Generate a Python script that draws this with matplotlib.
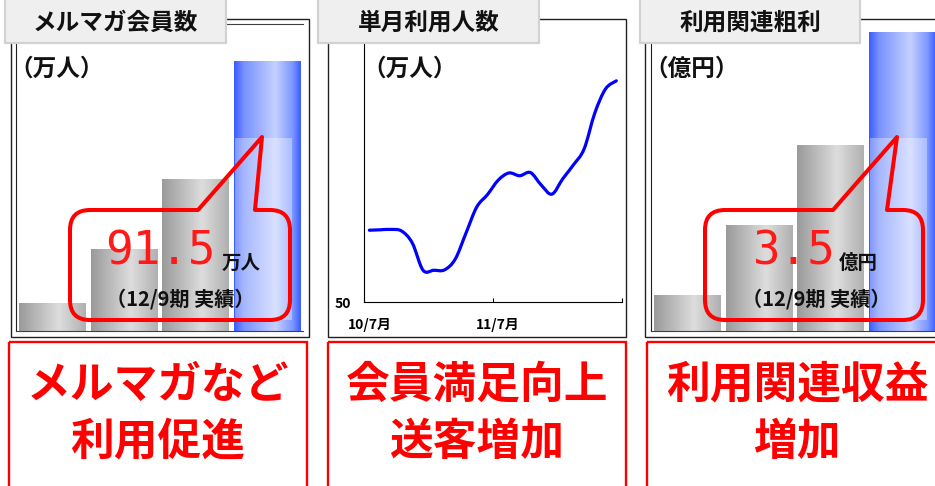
import numpy as np
import matplotlib
matplotlib.use('Agg')
import matplotlib.pyplot as plt
from matplotlib.colors import LinearSegmentedColormap
from matplotlib.patches import Rectangle, PathPatch
from matplotlib.path import Path

plt.rcParams['font.family'] = ['Noto Sans CJK JP', 'DejaVu Sans']

# 決算期ごとの実績
periods = ['09/9期', '10/9期', '11/9期', '12/9期']
members = [9.5, 27.6, 51.4, 91.5]     # メルマガ会員数（万人）
profit = [0.42, 1.24, 2.17, 3.5]      # 利用関連粗利（億円）

# 単月利用人数（万人） 10/7月〜12/6月
month_labels = ['10/7月', '11/7月']
users = [68.0, 68.1, 68.2, 67.8, 64.8, 58.0, 58.0, 58.1, 60.8, 67.3, 73.8, 76.9,
         80.5, 82.3, 81.6, 82.4, 79.3, 77.0, 80.8, 84.3, 88.3, 97.3, 103.3, 105.3]

W, H = 935, 486
fig = plt.figure(figsize=(W / 100, H / 100), dpi=100)


def px_axes(x0, y0, x1, y1, **kw):
    # ピクセル座標(左上原点)で軸を置く
    return fig.add_axes([x0 / W, 1 - y1 / H, (x1 - x0) / W, (y1 - y0) / H], **kw)


gray_cmap = LinearSegmentedColormap.from_list(
    'gray_bar', [(0, '#9a9a9a'), (0.6, '#dddddd'), (1, '#b0b0b0')])
blue_cmap = LinearSegmentedColormap.from_list(
    'blue_bar', [(0, '#3a5bff'), (0.15, '#7892ff'), (0.62, '#c5d0ff'),
                 (0.88, '#7b96ff'), (1, '#3a5bff')])
grad = np.linspace(0, 1, 256).reshape(1, -1)


def bar_panel(ax, values, ymax):
    bars = ax.bar(range(len(values)), values, width=0.92, color='none', edgecolor='none')
    for i, b in enumerate(bars):
        cmap = blue_cmap if i == len(values) - 1 else gray_cmap
        ax.imshow(grad, cmap=cmap, aspect='auto', interpolation='bilinear',
                  extent=[b.get_x(), b.get_x() + b.get_width(), 0, b.get_height()], zorder=2)
    ax.set_xlim(-0.5, len(values) - 0.5)
    ax.set_ylim(0, ymax)
    ax.set_xticks([])
    ax.set_yticks([])
    ax.spines['right'].set_visible(False)
    ax.spines['left'].set_color('#202020')
    ax.spines['bottom'].set_color('#404040')
    ax.spines['top'].set_color('#404040')


# メルマガ会員数
ax1 = px_axes(16, 24, 303, 331)
bar_panel(ax1, members, 104.4)

# 利用関連粗利
ax3 = px_axes(651, 24, 938, 331)
bar_panel(ax3, profit, 3.594)
ax3.spines['top'].set_visible(False)

# 単月利用人数（なめらかな折れ線）
ax2 = px_axes(364, 42, 621.7, 302.3)
x = np.arange(len(users)) + 0.5
pts = np.column_stack([x, users])
ext = np.vstack([pts[0], pts, pts[-1]])
verts = [pts[0]]
codes = [Path.MOVETO]
for i in range(len(pts) - 1):
    p0, p1, p2, p3 = ext[i], ext[i + 1], ext[i + 2], ext[i + 3]
    verts += [p1 + (p2 - p0) / 6, p2 - (p3 - p1) / 6, p2]
    codes += [Path.CURVE4] * 3
ax2.add_patch(PathPatch(Path(verts, codes), fc='none', ec='#0000ff', lw=2.3,
                        capstyle='round', joinstyle='round'))
ax2.set_xlim(0, 24)
ax2.set_ylim(50, 115)
ax2.spines['top'].set_visible(False)
ax2.spines['right'].set_visible(False)
ax2.set_xticks([0, 12, 24], labels=['', '', ''])
ax2.set_xticks([0.5, 12.5], labels=month_labels, minor=True)
ax2.tick_params(axis='x', which='major', direction='in', length=3, width=0.8)
ax2.tick_params(axis='x', which='minor', length=0, pad=11, labelsize=10)
ax2.set_yticks([50], labels=['50'])
ax2.tick_params(axis='y', length=0, pad=9, labelsize=10)
for lbl in ax2.get_xticklabels(minor=True) + ax2.get_yticklabels():
    lbl.set_fontweight('bold')

# 枠・見出し・吹き出しを重ねる
ov = px_axes(0, 0, W, H, zorder=10)
ov.set_xlim(0, W)
ov.set_ylim(H, 0)
ov.axis('off')

for x0, x1 in [(11, 309), (328, 626), (645, 960)]:
    ov.add_patch(Rectangle((x0, 19), x1 - x0, 318, fc='none', ec='#202020', lw=1))

for x0, x1 in [(9, 307), (328, 626), (647, 960)]:
    ov.add_patch(Rectangle((x0, 342), x1 - x0, 200, fc='none', ec='#ff0000', lw=1.7))

tabs = [(5, 226, 'メルマガ会員数'), (318, 539, '単月利用人数'), (640, 860, '利用関連粗利')]
for x0, x1, title in tabs:
    ov.add_patch(Rectangle((x0, -5), x1 - x0, 48, fc='#efefef', ec='#d2d2d2', lw=1.6))
    ov.text((x0 + x1) / 2, 23, title, ha='center', va='center', fontsize=17,
            fontweight='bold', color='#111111')

for cx, unit in [(57, '（万人）'), (410, '（万人）'), (692, '（億円）')]:
    ov.text(cx, 69, unit, ha='center', va='center', fontsize=17, fontweight='bold', color='#111111')


def callout(x0, y0, x1, y1, bx0, bx1, tip, r=20):
    tx, ty = tip
    verts = [(x0 + r, y0), (bx0, y0), (tx, ty), (bx1, y0), (x1 - r, y0),
             (x1, y0), (x1, y0 + r), (x1, y1 - r),
             (x1, y1), (x1 - r, y1), (x0 + r, y1),
             (x0, y1), (x0, y1 - r), (x0, y0 + r),
             (x0, y0), (x0 + r, y0), (x0 + r, y0)]
    codes = [Path.MOVETO, Path.LINETO, Path.LINETO, Path.LINETO, Path.LINETO,
             Path.CURVE3, Path.CURVE3, Path.LINETO,
             Path.CURVE3, Path.CURVE3, Path.LINETO,
             Path.CURVE3, Path.CURVE3, Path.LINETO,
             Path.CURVE3, Path.CURVE3, Path.CLOSEPOLY]
    ov.add_patch(PathPatch(Path(verts, codes), fc='none', ec='#ff0000', lw=2.9,
                           joinstyle='round'))


# 吹き出し内の値
ov.add_patch(Rectangle((235, 138), 57, 182, fc='white', alpha=0.35, ec='none'))
callout(70, 210, 290, 320, 198, 255, (262, 137))
ov.text(160, 252, f'{members[-1]:.1f}', ha='center', va='center', fontsize=33,
        family='DejaVu Sans Mono', color='#ff1a1a')
ov.text(222, 263, '万人', ha='left', va='center', fontsize=14, fontweight='bold', color='#111111')
ov.text(180, 299, f'（{periods[-1]} 実績）', ha='center', va='center', fontsize=14.5,
        fontweight='bold', color='#111111')

ov.add_patch(Rectangle((870, 138), 57, 182, fc='white', alpha=0.35, ec='none'))
callout(705, 210, 923, 320, 833, 887, (897, 137))
ov.text(794, 252, f'{profit[-1]:.1f}', ha='center', va='center', fontsize=33,
        family='DejaVu Sans Mono', color='#ff1a1a')
ov.text(839, 263, '億円', ha='left', va='center', fontsize=14, fontweight='bold', color='#111111')
ov.text(816, 299, f'（{periods[-1]} 実績）', ha='center', va='center', fontsize=14.5,
        fontweight='bold', color='#111111')

# 下段のメッセージ
messages = [(158, 'メルマガなど', '利用促進'), (477, '会員満足向上', '送客増加'), (797, '利用関連収益', '増加')]
for cx, line1, line2 in messages:
    ov.text(cx, 385, line1, ha='center', va='center', fontsize=31.5, fontweight='bold', color='#ff0000')
    ov.text(cx, 442, line2, ha='center', va='center', fontsize=31.5, fontweight='bold', color='#ff0000')

fig.savefig('out.png', dpi=100)
